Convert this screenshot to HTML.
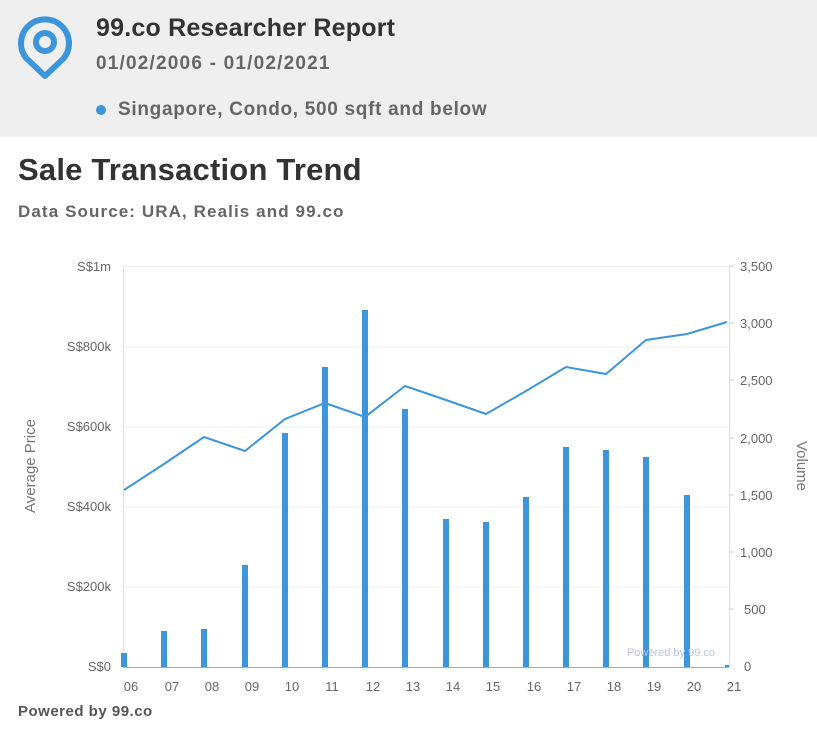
<!DOCTYPE html>
<html><head><meta charset="utf-8"><style>
body{margin:0;width:817px;height:730px;background:#fff;font-family:"Liberation Sans",sans-serif;overflow:hidden;position:relative}
.hdr{position:absolute;left:0;top:0;width:817px;height:137px;background:#efefef}
.t{position:absolute;white-space:nowrap}
</style></head><body>
<div class="hdr"></div>
<svg style="position:absolute;left:18px;top:14px" width="54" height="66" viewBox="0 0 54 66">
<g fill="none" stroke="#3d95dc" stroke-width="6">
<path d="M8 44 A24 24 0 1 1 46 44 L27 62 Z" stroke-linejoin="round"/>
<circle cx="27" cy="28" r="9"/>
</g></svg>
<div class="t" style="left:96px;top:14px;font-size:25px;font-weight:bold;color:#333;letter-spacing:0.2px">99.co Researcher Report</div>
<div class="t" style="left:96px;top:53px;font-size:19px;color:#666;font-weight:bold;letter-spacing:1.2px">01/02/2006 - 01/02/2021</div>
<div style="position:absolute;left:96px;top:105px;width:10px;height:10px;border-radius:5px;background:#3d95dc"></div>
<div class="t" style="left:118px;top:99px;font-size:19px;color:#666;font-weight:bold;letter-spacing:0.7px">Singapore, Condo, 500 sqft and below</div>
<div class="t" style="left:18px;top:152px;font-size:31px;font-weight:bold;color:#333;letter-spacing:0.2px">Sale Transaction Trend</div>
<div class="t" style="left:18px;top:202px;font-size:17px;font-weight:bold;color:#666;letter-spacing:1.1px">Data Source: URA, Realis and 99.co</div>
<svg style="position:absolute;left:0;top:0" width="817" height="730">
<g stroke="#eee" stroke-width="1">
<line x1="123" y1="266.5" x2="729" y2="266.5"/><line x1="123" y1="347" x2="729" y2="347"/><line x1="123" y1="427" x2="729" y2="427"/><line x1="123" y1="507" x2="729" y2="507"/><line x1="123" y1="587" x2="729" y2="587"/>
</g>
<line x1="123.5" y1="266" x2="123.5" y2="667" stroke="#ddd"/>
<line x1="729.5" y1="266" x2="729.5" y2="667" stroke="#ddd"/>
<g stroke="#ccc"><line x1="729" y1="266" x2="734" y2="266"/><line x1="729" y1="323" x2="734" y2="323"/><line x1="729" y1="380" x2="734" y2="380"/><line x1="729" y1="438" x2="734" y2="438"/><line x1="729" y1="495" x2="734" y2="495"/><line x1="729" y1="552" x2="734" y2="552"/><line x1="729" y1="609" x2="734" y2="609"/></g>
<g fill="#3d95dc">
<rect x="121" y="653" width="6" height="14"/><rect x="161" y="631" width="6" height="36"/><rect x="201" y="629" width="6" height="38"/><rect x="242" y="565" width="6" height="102"/><rect x="282" y="433" width="6" height="234"/><rect x="322" y="367" width="6" height="300"/><rect x="362" y="310" width="6" height="357"/><rect x="402" y="409" width="6" height="258"/><rect x="443" y="519" width="6" height="148"/><rect x="483" y="522" width="6" height="145"/><rect x="523" y="497" width="6" height="170"/><rect x="563" y="447" width="6" height="220"/><rect x="603" y="450" width="6" height="217"/><rect x="643" y="457" width="6" height="210"/><rect x="684" y="495" width="6" height="172"/><rect x="725" y="665" width="4" height="2"/>
</g>
<line x1="123" y1="667.5" x2="729" y2="667.5" stroke="#aaa"/>
<polyline fill="none" stroke="#3d95dc" stroke-width="2" points="124,490 164,464 204,437 245,451 285,419 325,403 365,417 405,386 446,400 486,414 526,391 566,367 606,374 646,340 687,334 727,322"/>
<text x="715" y="656" font-size="11" fill="#b8c4dc" text-anchor="end" font-family="Liberation Sans">Powered by 99.co</text>
<g font-size="13" fill="#666" text-anchor="end" font-family="Liberation Sans">
<text x="111" y="271">S$1m</text><text x="111" y="351">S$800k</text><text x="111" y="431">S$600k</text><text x="111" y="511">S$400k</text><text x="111" y="591">S$200k</text><text x="111" y="671">S$0</text>
</g>
<g font-size="13" fill="#666" font-family="Liberation Sans">
<text x="740" y="271">3,500</text><text x="740" y="328">3,000</text><text x="740" y="385">2,500</text><text x="740" y="443">2,000</text><text x="740" y="500">1,500</text><text x="740" y="557">1,000</text><text x="744" y="614">500</text><text x="744" y="671">0</text>
</g>
<g font-size="13" fill="#666" text-anchor="middle" font-family="Liberation Sans">
<text x="131" y="691">06</text><text x="172" y="691">07</text><text x="212" y="691">08</text><text x="252" y="691">09</text><text x="292" y="691">10</text><text x="332" y="691">11</text><text x="373" y="691">12</text><text x="413" y="691">13</text><text x="453" y="691">14</text><text x="493" y="691">15</text><text x="534" y="691">16</text><text x="574" y="691">17</text><text x="614" y="691">18</text><text x="654" y="691">19</text><text x="694" y="691">20</text><text x="734" y="691">21</text>
</g>
<text transform="translate(35,466) rotate(-90)" font-size="15" fill="#777" text-anchor="middle" font-family="Liberation Sans">Average Price</text>
<text transform="translate(797,466) rotate(90)" font-size="15" fill="#777" text-anchor="middle" font-family="Liberation Sans">Volume</text>
</svg>
<div class="t" style="left:18px;top:703px;font-size:15px;color:#555;font-weight:bold;letter-spacing:0.5px">Powered by 99.co</div>
</body></html>
